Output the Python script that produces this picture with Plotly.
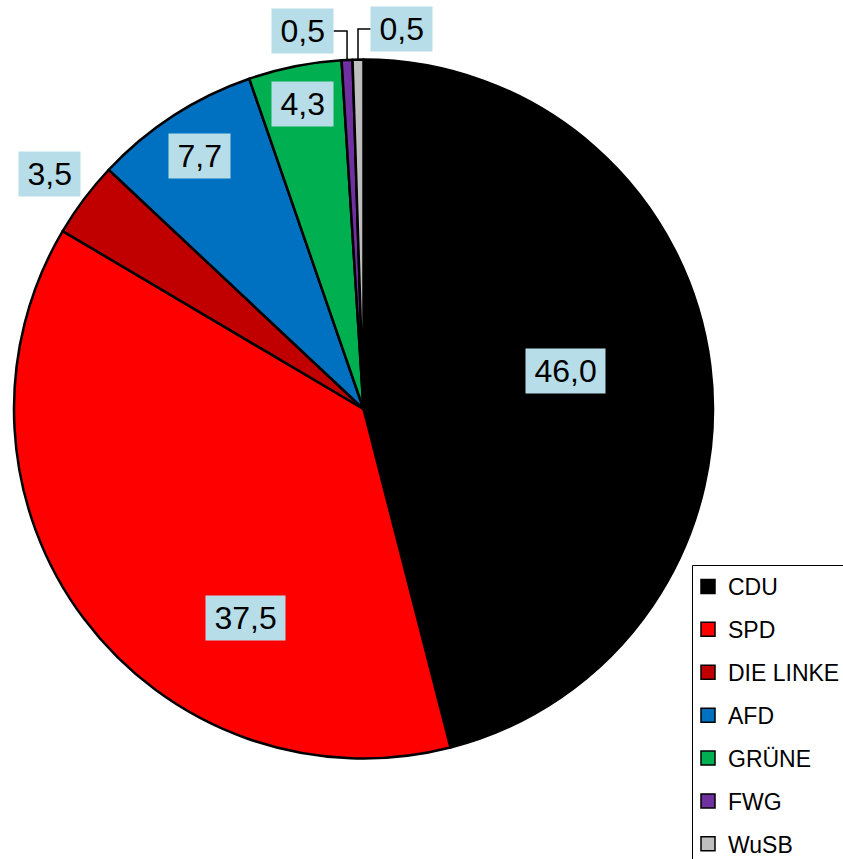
import math
import plotly.graph_objects as go

# ---------------- data ----------------
parties = ["CDU", "SPD", "DIE LINKE", "AFD", "GRÜNE", "FWG", "WuSB"]
shares = [46.0, 37.5, 3.5, 7.7, 4.3, 0.5, 0.5]
colors = ["#000000", "#FF0000", "#C00000", "#0070C0", "#00B050", "#7030A0", "#BFBFBF"]

# ---------------- layout / geometry ----------------
W, H = 843, 859
CX, CY, R = 363.5, 409.0, 349.5          # pie centre and radius in px
LABEL_BG = "#B7DEE8"
FONT = "Arial, 'Liberation Sans', sans-serif"
LABEL_SIZE = 32
# label placement relative to slice middle (angle shift in deg, radius factor)
lab_shift = [-3.6, -23.7, 0.0, 0.0, 0.0, -6.4, 6.6]
lab_rad = [0.587, 0.687, 1.122, 0.862, 0.89, 1.095, 1.093]
leader = [False, False, False, False, False, True, True]
LEG_BOX_X, LEG_BOX_Y = 692, 565           # legend frame top-left (px)

fig = go.Figure()

fig.add_trace(go.Pie(
    labels=parties,
    values=shares,
    sort=False,
    direction="clockwise",
    rotation=0,
    marker=dict(colors=colors, line=dict(color="black", width=2.5)),
    textinfo="none",
    hovertemplate="%{label}: %{value}<extra></extra>",
    showlegend=False,
    domain=dict(x=[(CX - R) / W, (CX + R) / W],
                y=[(H - CY - R) / H, (H - CY + R) / H]),
))

# legend entries (one group per party so spacing can be controlled)
for p, c in zip(parties, colors):
    fig.add_trace(go.Scatter(
        x=[None], y=[None], mode="markers", name=p, legendgroup=p,
        marker=dict(symbol="square", size=14, color=c,
                    line=dict(color="black", width=1.5)),
        hoverinfo="skip",
    ))

def px2paper(x, y):
    return x / W, 1 - y / H

def text_width(s, size):
    w = 0.0
    for ch in s:
        w += (0.278 if ch in ",." else 0.556) * size
    return w

total = sum(shares)
annotations = []
shapes = []
cum = 0.0
for i, v in enumerate(shares):
    mid = (cum + v / 2) / total * 360.0
    cum += v
    ang = math.radians(mid + lab_shift[i])
    lx = CX + lab_rad[i] * R * math.sin(ang)
    ly = CY - lab_rad[i] * R * math.cos(ang)
    txt = f"{v:.1f}".replace(".", ",")
    bw = text_width(txt, LABEL_SIZE) + 17
    x, y = px2paper(lx, ly)
    annotations.append(dict(
        x=x, y=y, xref="paper", yref="paper", text=txt, showarrow=False,
        xanchor="center", yanchor="middle",
        font=dict(family=FONT, size=LABEL_SIZE, color="black"),
        bgcolor=LABEL_BG, width=bw, height=44, borderpad=0,
    ))
    if leader[i]:
        am = math.radians(mid)
        ax = CX + R * math.sin(am)
        ay = CY - R * math.cos(am)
        sx = lx + bw / 2 if ax > lx else lx - bw / 2
        p1 = px2paper(sx, ly)
        p2 = px2paper(ax, ly)
        p3 = px2paper(ax, ay)
        shapes.append(dict(
            type="path", xref="paper", yref="paper",
            path=f"M {p1[0]} {p1[1]} L {p2[0]} {p2[1]} L {p3[0]} {p3[1]}",
            line=dict(color="black", width=1.5),
        ))

# legend frame (extends past the right and bottom edges, as in the reference)
bx0, by0 = px2paper(LEG_BOX_X + 0.5, LEG_BOX_Y + 0.5)
bx1, by1 = px2paper(W + 20, H + 20)
shapes.append(dict(
    type="rect", xref="paper", yref="paper", layer="below",
    x0=bx0, y0=by0, x1=bx1, y1=by1,
    line=dict(color="black", width=1), fillcolor="white",
))

lx0, ly0 = px2paper(LEG_BOX_X - 4, LEG_BOX_Y)
fig.update_layout(
    width=W, height=H,
    margin=dict(l=0, r=0, t=0, b=0, autoexpand=False),
    paper_bgcolor="white", plot_bgcolor="rgba(0,0,0,0)",
    xaxis=dict(visible=False), yaxis=dict(visible=False),
    annotations=annotations,
    shapes=shapes,
    legend=dict(
        x=lx0, y=ly0, xanchor="left", yanchor="top",
        bgcolor="rgba(0,0,0,0)", borderwidth=0,
        font=dict(family=FONT, size=23, color="black"),
        tracegroupgap=10,
    ),
    font=dict(family=FONT),
)

fig.write_html(
    "out.html",
    config={"displayModeBar": False},
    post_script="document.body.style.margin='0';document.body.style.overflow='hidden';",
)
